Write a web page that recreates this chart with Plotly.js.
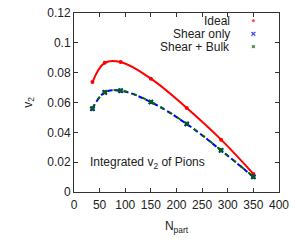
<!DOCTYPE html>
<html><head><meta charset="utf-8">
<script src="https://cdn.plot.ly/plotly-3.0.1.min.js"></script>
<style>html,body{margin:0;padding:0;background:#fff}#plot{width:296px;height:240px}</style>
</head><body><div id="plot"></div>
<script>
const npart = [36, 60, 91, 150, 220, 287, 350];
const ideal = [0.0737, 0.0866, 0.0871, 0.0760, 0.0563, 0.0351, 0.0121];
const shearOnly = [0.0558, 0.0668, 0.0679, 0.0603, 0.0456, 0.0279, 0.0101];
const shearBulk = [0.0560, 0.0669, 0.0680, 0.0604, 0.0457, 0.0280, 0.0102];
const seriesNames = ['Ideal', 'Shear only', 'Shear + Bulk'];
const seriesColors = ['#ff0000', '#0000ff', '#006400'];
const xTicks = [0, 50, 100, 150, 200, 250, 300, 350, 400];
const yTicks = [0, 0.02, 0.04, 0.06, 0.08, 0.1, 0.12];
const yTickText = ['0', '0.02', '0.04', '0.06', '0.08', '0.1', '0.12'];

const font = {family: 'Liberation Sans, Arial, sans-serif', size: 12, color: '#222'};
const data = [
  {x: npart, y: ideal, mode: 'lines+markers', line: {shape: 'spline', smoothing: 1.1, color: seriesColors[0], width: 2},
   marker: {symbol: 'circle', size: 4, color: seriesColors[0]}, showlegend: false},
  {x: npart, y: shearOnly, mode: 'lines+markers', line: {shape: 'spline', smoothing: 1.1, color: seriesColors[1], width: 2, dash: '5px,3px'},
   marker: {symbol: 'x', size: 5, color: seriesColors[1]}, showlegend: false},
  {x: npart, y: shearBulk, mode: 'lines+markers', line: {shape: 'spline', smoothing: 1.1, color: seriesColors[2], width: 2, dash: '4px,6px'},
   marker: {symbol: 'square', size: 4, color: seriesColors[2]}, showlegend: false},
  {x: [0.875, 0.875, 0.875], y: [0.957, 0.884, 0.812], xaxis: 'x2', yaxis: 'y2', mode: 'markers',
   marker: {symbol: ['circle', 'x', 'square'], size: [4, 5, 4], color: seriesColors}, showlegend: false, hoverinfo: 'skip'}
];
const axisCommon = {showline: true, linecolor: '#333', linewidth: 1, mirror: 'ticks', ticks: 'inside', ticklen: 4,
  tickcolor: '#333', showgrid: false, zeroline: false, tickfont: font};
const layout = {
  width: 296, height: 240, margin: {l: 74, r: 17, t: 13, b: 48},
  paper_bgcolor: '#fff', plot_bgcolor: '#fff', font: font, showlegend: false,
  xaxis: Object.assign({}, axisCommon, {range: [0, 400], tickvals: xTicks, ticklabelstandoff: 2,
    title: {text: 'N<sub>part</sub>', font: font, standoff: 10}}),
  yaxis: Object.assign({}, axisCommon, {range: [0, 0.12], tickvals: yTicks, ticktext: yTickText,
    title: {text: 'v<sub>2</sub>', font: font, standoff: 12}}),
  xaxis2: {overlaying: 'x', range: [0, 1], visible: false, fixedrange: true},
  yaxis2: {overlaying: 'y', range: [0, 1], visible: false, fixedrange: true},
  annotations: [
    {xref: 'x2', yref: 'y2', x: 0.77, y: 0.957, text: seriesNames[0], showarrow: false, xanchor: 'right', yanchor: 'middle', font: font},
    {xref: 'x2', yref: 'y2', x: 0.77, y: 0.884, text: seriesNames[1], showarrow: false, xanchor: 'right', yanchor: 'middle', font: font},
    {xref: 'x2', yref: 'y2', x: 0.77, y: 0.812, text: seriesNames[2], showarrow: false, xanchor: 'right', yanchor: 'middle', font: font},
    {xref: 'x2', yref: 'y2', x: 0.07, y: 0.16, text: 'Integrated v<sub>2</sub> of Pions', showarrow: false, xanchor: 'left', font: font}
  ]
};
Plotly.newPlot('plot', data, layout, {staticPlot: true, displayModeBar: false});
</script></body></html>
